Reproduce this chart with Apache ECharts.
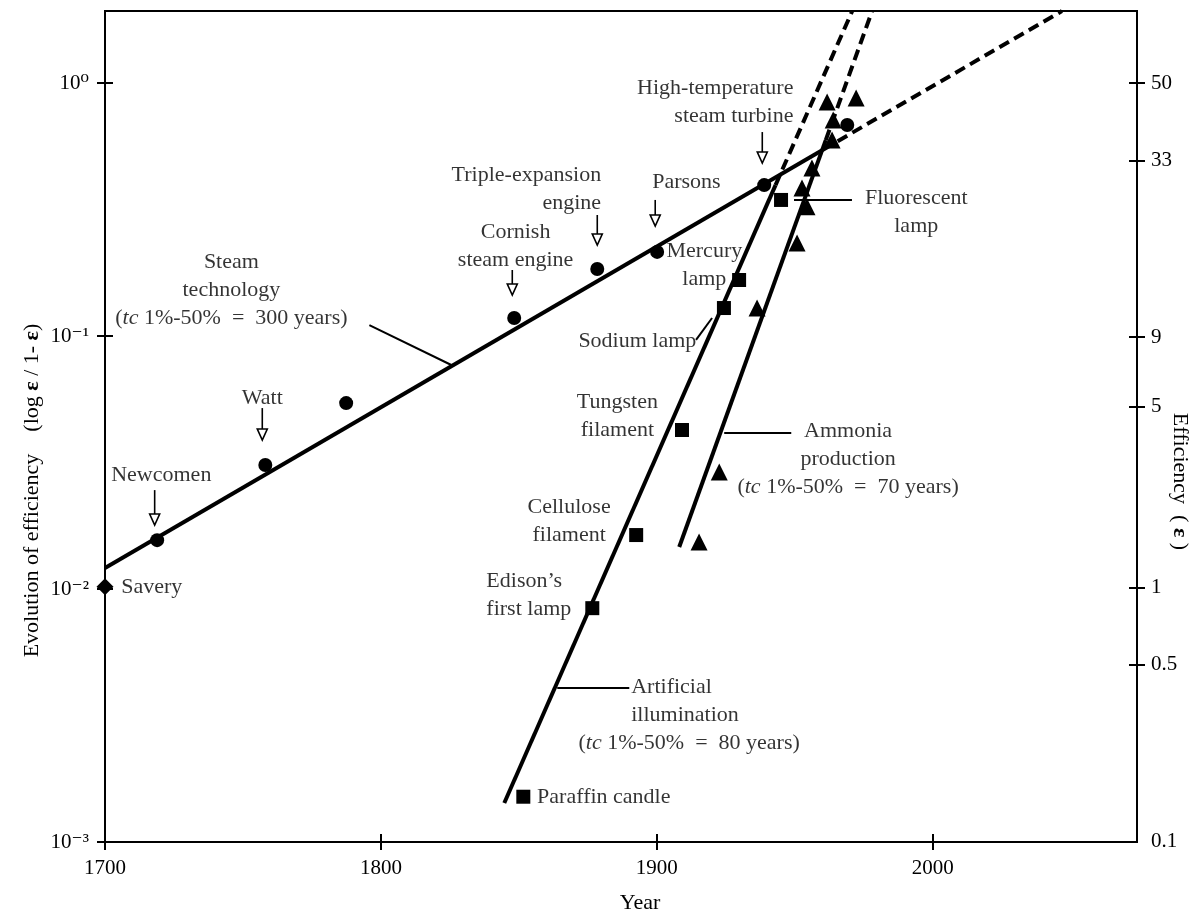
<!DOCTYPE html>
<html><head><meta charset="utf-8">
<script src="https://cdn.jsdelivr.net/npm/echarts@6/dist/echarts.min.js"></script>
<style>html,body{margin:0;padding:0;background:#fff}#c{width:1192px;height:924px}</style>
</head><body><div id="c"></div>
<script>
const FONT = '"Liberation Serif", "DejaVu Serif", serif';

// ---- axes ----
const yearMin = 1700, yearMax = 2074, yearStep = 100;
const leftTickValues = [0.001, 0.01, 0.1, 1];
const leftTickLabels = ['10\u207B\u00B3', '10\u207B\u00B2', '10\u207B\u00B9', '10\u2070'];
const effPercent = [50, 33, 9, 5, 1, 0.5, 0.1];
const effPercentLabels = ['50', '33', '9', '5', '1', '0.5', '0.1'];
const effTickCount = 6; // 0.1 sits on the corner, no tick drawn
const ratioMin = 0.001, ratioMax = 1.926;

// ---- data points (year, efficiency ratio e/(1-e)) ----
const steamYears  = [1718.9, 1758.1, 1787.4, 1848.3, 1878.4, 1900.1, 1938.9, 1969.0];
const steamValues = [0.0156, 0.0309, 0.0543, 0.1178, 0.184, 0.215, 0.395, 0.682];
const saveryYears = [1700];
const saveryValues = [0.0102];
const lightYears  = [1851.6, 1876.6, 1892.5, 1909.1, 1924.3, 1929.8, 1945.0];
const lightValues = [0.00151, 0.0084, 0.01634, 0.0425, 0.129, 0.1665, 0.345];
const ammoniaYears  = [1915.3, 1922.6, 1936.3, 1950.8, 1952.6, 1954.4, 1956.2, 1963.5, 1963.9, 1961.7, 1972.2];
const ammoniaValues = [0.01534, 0.029, 0.129, 0.233, 0.385, 0.324, 0.461, 0.595, 0.714, 0.841, 0.872];

// ---- trend lines: start, end of solid part, end of dashed extrapolation ----
const steamTrendYears  = [1700, 1960.2, 2046.8];
const steamTrendValues = [0.0121, 0.545, 1.926];
const lightTrendYears  = [1844.7, 1943.0, 1970.8];
const lightTrendValues = [0.001426, 0.395, 1.926];
const ammoniaTrendYears  = [1908.1, 1961.2, 1978.0];
const ammoniaTrendValues = [0.01466, 0.595, 1.926];

// ---- annotations ----
const labelTexts = [
  'Steam\ntechnology\n({i|tc} 1%-50%  =  300 years)',
  'Newcomen', 'Watt', 'Cornish\nsteam engine', 'Triple-expansion\nengine', 'Parsons',
  'High-temperature\nsteam turbine', 'Mercury\nlamp', 'Sodium lamp', 'Fluorescent\nlamp',
  'Tungsten\nfilament', 'Cellulose\nfilament', 'Edison\u2019s\nfirst lamp',
  'Ammonia\nproduction\n({i|tc} 1%-50%  =  70 years)',
  'Artificial\nillumination', '({i|tc} 1%-50%  =  80 years)', 'Paraffin candle', 'Savery'
];
const labelYears = [1745.8, 1720.4, 1757.0, 1848.8, 1879.8, 1898.3, 1949.5, 1917.2, 1914.3, 1994.0,
  1885.7, 1868.2, 1838.2, 1969.3, 1890.7, 1911.7, 1856.6, 1705.9];
const labelValues = [0.152, 0.0282, 0.0569, 0.226, 0.381, 0.406, 0.837, 0.191, 0.0955, 0.309,
  0.0483, 0.0185, 0.00947, 0.0326, 0.00361, 0.00246, 0.00151, 0.0102];
const labelAligns = ['center', 'center', 'center', 'center', 'right', 'left', 'right', 'center', 'right', 'center',
  'center', 'center', 'left', 'center', 'left', 'center', 'left', 'left'];

const arrowYears  = [1718.0, 1757.0, 1847.6, 1878.4, 1899.4, 1938.2];
const arrowTop    = [0.0246, 0.0519, 0.1824, 0.3009, 0.345, 0.640];
const arrowBottom = [0.0179, 0.0388, 0.1452, 0.229, 0.272, 0.483];

const leaderYear1  = [1795.8, 1914.2, 1949.7, 1924.4, 1863.9];
const leaderValue1 = [0.1105, 0.0965, 0.345, 0.0414, 0.00406];
const leaderYear2  = [1825.5, 1920.0, 1970.7, 1948.7, 1890.0];
const leaderValue2 = [0.0768, 0.1178, 0.345, 0.0414, 0.00406];

// ---- build ----
const effRatios = effPercent.map(p => p / (100 - p));
const zip = (a, b) => a.map((v, i) => [v, b[i]]);
const near = (a, b) => Math.abs(Math.log10(a) - Math.log10(b)) < 1e-4;

const INK = '#000';
const txt = { fontFamily: FONT, fontSize: 22, color: INK };
const rich = { i: { fontFamily: FONT, fontSize: 22, fontStyle: 'italic', color: INK, lineHeight: 28 },
               b: { fontFamily: FONT, fontSize: 22, fontWeight: 'bold', color: INK } };

function trend(years, values) {
  return [
    { type: 'line', data: zip(years.slice(0, 2), values.slice(0, 2)), symbol: 'none', silent: true,
      lineStyle: { color: '#000', width: 4 }, z: 3 },
    { type: 'line', data: zip(years.slice(1), values.slice(1)), symbol: 'none', silent: true,
      lineStyle: { color: '#000', width: 4, type: [11, 6] }, z: 3 }
  ];
}
function marks(years, values, symbol, size) {
  return { type: 'scatter', data: zip(years, values), symbol, symbolSize: size, clip: false,
    itemStyle: { color: '#000', opacity: 1 }, z: 5 };
}

const baseY = {
  type: 'log', logBase: 10, min: ratioMin, max: ratioMax,
  splitLine: { show: false }, minorTick: { show: false }, minorSplitLine: { show: false }
};

const option = {
  animation: false,
  backgroundColor: '#fff',
  textStyle: { fontFamily: FONT },
  grid: { left: 105, right: 55, top: 11, bottom: 82, show: true, borderColor: '#000', borderWidth: 2,
          backgroundColor: 'transparent', containLabel: false, outerBoundsMode: 'none' },
  xAxis: [
    { type: 'value', min: yearMin, max: yearMax, interval: yearStep, position: 'bottom',
      name: 'Year', nameLocation: 'middle', nameGap: 50, nameMoveOverlap: false,
      nameTextStyle: Object.assign({}, txt, { padding: [0, 0, 0, 38] }),
      axisLine: { show: true, lineStyle: { color: '#000', width: 2 } },
      axisTick: { show: true, inside: false, length: 8, lineStyle: { color: '#000', width: 2 } },
      axisLabel: { color: INK, fontFamily: FONT, fontSize: 21, margin: 16, showMaxLabel: false,
                   formatter: v => String(v) },
      splitLine: { show: false } },
    { type: 'value', min: yearMin, max: yearMax, interval: yearStep, position: 'bottom',
      axisLine: { show: false },
      axisTick: { show: true, inside: true, length: 8, lineStyle: { color: '#000', width: 2 } },
      axisLabel: { show: false }, splitLine: { show: false } }
  ],
  yAxis: [
    Object.assign({}, baseY, {
      position: 'left',
      name: 'Evolution of efficiency    (log {b|\u03B5} / 1- {b|\u03B5})',
      nameLocation: 'middle', nameGap: 62, nameMoveOverlap: false,
      nameTextStyle: Object.assign({}, txt, { rich, padding: [0, 128, 0, 0] }),
      axisLine: { show: true, lineStyle: { color: '#000', width: 2 } },
      axisTick: { show: true, inside: false, length: 8, customValues: leftTickValues,
                  lineStyle: { color: '#000', width: 2 } },
      axisLabel: { color: INK, fontFamily: FONT, fontSize: 21, margin: 16, customValues: leftTickValues,
                   formatter: v => { const i = leftTickValues.findIndex(t => near(t, v)); return i < 0 ? '' : leftTickLabels[i]; } }
    }),
    Object.assign({}, baseY, {
      position: 'right',
      name: 'Efficiency  ( {b|\u03B5} )', nameLocation: 'middle', nameGap: 32, nameRotate: -90,
      nameMoveOverlap: false,
      nameTextStyle: Object.assign({}, txt, { rich, padding: [0, 0, 0, 110] }),
      axisLine: { show: true, lineStyle: { color: '#000', width: 2 } },
      axisTick: { show: true, inside: false, length: 8, customValues: effRatios.slice(0, effTickCount),
                  lineStyle: { color: '#000', width: 2 } },
      axisLabel: { color: INK, fontFamily: FONT, fontSize: 21, margin: 14, customValues: effRatios,
                   formatter: v => { const i = effRatios.findIndex(t => near(t, v)); return i < 0 ? '' : effPercentLabels[i]; } }
    }),
    Object.assign({}, baseY, {
      position: 'left', axisLine: { show: false }, axisLabel: { show: false },
      axisTick: { show: true, inside: true, length: 8, customValues: leftTickValues,
                  lineStyle: { color: '#000', width: 2 } }
    }),
    Object.assign({}, baseY, {
      position: 'right', axisLine: { show: false }, axisLabel: { show: false },
      axisTick: { show: true, inside: true, length: 8, customValues: effRatios.slice(0, effTickCount),
                  lineStyle: { color: '#000', width: 2 } }
    })
  ],
  series: [
    ...trend(steamTrendYears, steamTrendValues),
    ...trend(lightTrendYears, lightTrendValues),
    ...trend(ammoniaTrendYears, ammoniaTrendValues),
    marks(saveryYears, saveryValues, 'diamond', 17),
    marks(steamYears, steamValues, 'circle', 14),
    marks(lightYears, lightValues, 'rect', 14),
    marks(ammoniaYears, ammoniaValues, 'triangle', 17),
    { type: 'custom', silent: true, clip: false, z: 4,
      data: arrowYears.map((y, i) => [y, arrowTop[i], arrowBottom[i]]),
      encode: { x: 0, y: [1, 2] },
      renderItem(params, api) {
        const top = api.coord([api.value(0), api.value(1)]);
        const bot = api.coord([api.value(0), api.value(2)]);
        const hw = 5, hh = 11;
        return { type: 'group', children: [
          { type: 'line', shape: { x1: top[0], y1: top[1], x2: bot[0], y2: bot[1] - hh },
            style: { stroke: '#000', lineWidth: 1.6 } },
          { type: 'polygon', shape: { points: [[bot[0] - hw, bot[1] - hh], [bot[0] + hw, bot[1] - hh], [bot[0], bot[1]]] },
            style: { fill: '#fff', stroke: '#000', lineWidth: 1.6 } }
        ] };
      } },
    { type: 'custom', silent: true, clip: false, z: 4,
      data: leaderYear1.map((y, i) => [y, leaderValue1[i], leaderYear2[i], leaderValue2[i]]),
      encode: { x: [0, 2], y: [1, 3] },
      renderItem(params, api) {
        const a = api.coord([api.value(0), api.value(1)]);
        const b = api.coord([api.value(2), api.value(3)]);
        return { type: 'line', shape: { x1: a[0], y1: a[1], x2: b[0], y2: b[1] },
                 style: { stroke: '#000', lineWidth: 2 } };
      } },
    { type: 'scatter', silent: true, clip: false, symbolSize: 0, z: 6,
      data: labelTexts.map((t, i) => ({
        value: [labelYears[i], labelValues[i]],
        label: { show: true, position: 'inside', formatter: t, align: labelAligns[i], verticalAlign: 'middle',
                 fontFamily: FONT, fontSize: 22, color: INK, lineHeight: 28, rich }
      })) }
  ]
};

const chart = echarts.init(document.getElementById('c'), null, { renderer: 'canvas' });
chart.setOption(option);
</script>
</body></html>
